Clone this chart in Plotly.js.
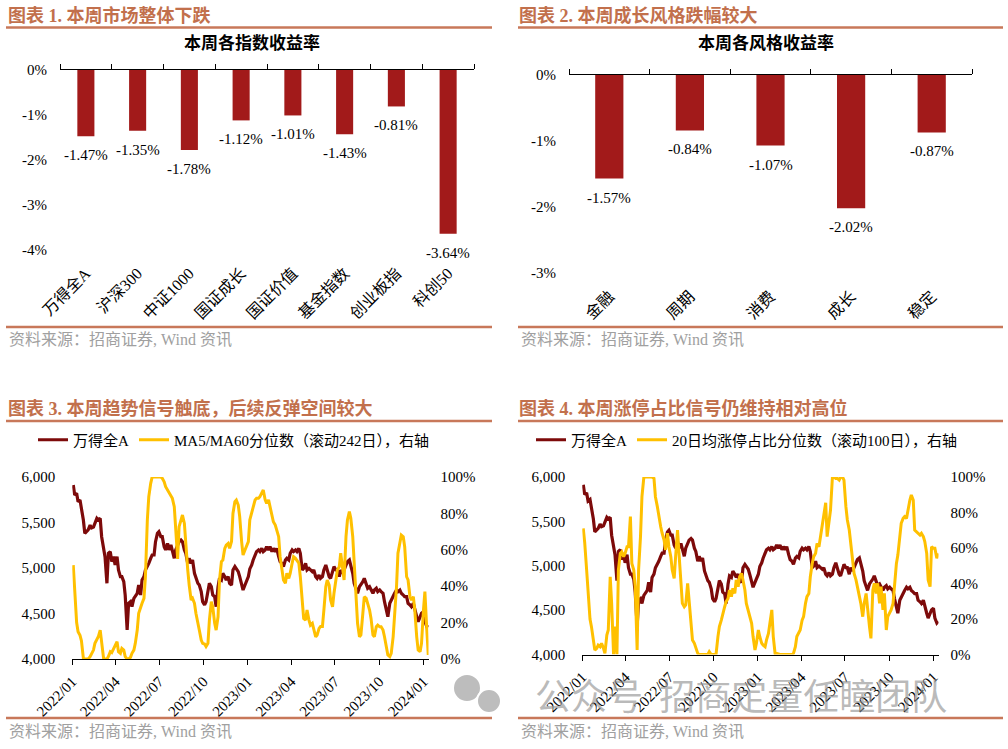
<!DOCTYPE html>
<html><head><meta charset="utf-8">
<script src="https://cdn.plot.ly/plotly-3.0.1.min.js"></script>
<style>html,body{margin:0;padding:0;background:#fff}#chart{width:1008px;height:749px}</style>
</head><body><div id="chart"></div>
<script>
// ---------- data ----------
const idxCategories = ['万得全A','沪深300','中证1000','国证成长','国证价值','基金指数','创业板指','科创50'];
const idxReturns = [-1.47,-1.35,-1.78,-1.12,-1.01,-1.43,-0.81,-3.64];
const styleCategories = ['金融','周期','消费','成长','稳定'];
const styleReturns = [-1.57,-0.84,-1.07,-2.02,-0.87];
const idxTickVals = [0,-1,-2,-3,-4];
const idxTickText = ['0%','-1%','-2%','-3%','-4%'];
const styleTickVals = [0,-1,-2,-3];
const styleTickText = ['0%','-1%','-2%','-3%'];
const indexTickVals = [4000,4500,5000,5500,6000];
const pctTickVals = [0,20,40,60,80,100];
const pctTickText = ['0%','20%','40%','60%','80%','100%'];

const dates = [
'2022-01-03','2022-01-06','2022-01-10','2022-01-13','2022-01-17','2022-01-20','2022-01-24','2022-01-27','2022-01-31',
'2022-02-03','2022-02-07','2022-02-10','2022-02-14','2022-02-17','2022-02-21','2022-02-24','2022-02-28',
'2022-03-03','2022-03-07','2022-03-10','2022-03-14','2022-03-17','2022-03-21','2022-03-24','2022-03-28','2022-03-31',
'2022-04-04','2022-04-07','2022-04-11','2022-04-14','2022-04-18','2022-04-21','2022-04-25','2022-04-28',
'2022-05-02','2022-05-05','2022-05-09','2022-05-12','2022-05-16','2022-05-19','2022-05-23','2022-05-26','2022-05-30',
'2022-06-02','2022-06-06','2022-06-09','2022-06-13','2022-06-16','2022-06-20','2022-06-23','2022-06-27','2022-06-30',
'2022-07-04','2022-07-07','2022-07-11','2022-07-14','2022-07-18','2022-07-21','2022-07-25','2022-07-28',
'2022-08-01','2022-08-04','2022-08-08','2022-08-11','2022-08-15','2022-08-18','2022-08-22','2022-08-25','2022-08-29',
'2022-09-01','2022-09-05','2022-09-08','2022-09-12','2022-09-15','2022-09-19','2022-09-22','2022-09-26','2022-09-29',
'2022-10-03','2022-10-06','2022-10-10','2022-10-13','2022-10-17','2022-10-20','2022-10-24','2022-10-27','2022-10-31',
'2022-11-03','2022-11-07','2022-11-10','2022-11-14','2022-11-17','2022-11-21','2022-11-24','2022-11-28',
'2022-12-01','2022-12-05','2022-12-08','2022-12-12','2022-12-15','2022-12-19','2022-12-22','2022-12-26','2022-12-29',
'2023-01-02','2023-01-05','2023-01-09','2023-01-12','2023-01-16','2023-01-19','2023-01-23','2023-01-26','2023-01-30',
'2023-02-02','2023-02-06','2023-02-09','2023-02-13','2023-02-16','2023-02-20','2023-02-23','2023-02-27',
'2023-03-02','2023-03-06','2023-03-09','2023-03-13','2023-03-16','2023-03-20','2023-03-23','2023-03-27','2023-03-30',
'2023-04-03','2023-04-06','2023-04-10','2023-04-13','2023-04-17','2023-04-20','2023-04-24','2023-04-27',
'2023-05-01','2023-05-04','2023-05-08','2023-05-11','2023-05-15','2023-05-18','2023-05-22','2023-05-25','2023-05-29',
'2023-06-01','2023-06-05','2023-06-08','2023-06-12','2023-06-15','2023-06-19','2023-06-22','2023-06-26','2023-06-29',
'2023-07-03','2023-07-06','2023-07-10','2023-07-13','2023-07-17','2023-07-20','2023-07-24','2023-07-27','2023-07-31',
'2023-08-03','2023-08-07','2023-08-10','2023-08-14','2023-08-17','2023-08-21','2023-08-24','2023-08-28','2023-08-31',
'2023-09-04','2023-09-07','2023-09-11','2023-09-14','2023-09-18','2023-09-21','2023-09-25','2023-09-28',
'2023-10-02','2023-10-05','2023-10-09','2023-10-12','2023-10-16','2023-10-19','2023-10-23','2023-10-26','2023-10-30',
'2023-11-02','2023-11-06','2023-11-09','2023-11-13','2023-11-16','2023-11-20','2023-11-23','2023-11-27','2023-11-30',
'2023-12-04','2023-12-07','2023-12-11','2023-12-14','2023-12-18','2023-12-21','2023-12-25','2023-12-28',
'2024-01-01','2024-01-04','2024-01-08','2024-01-11'];

const windA = [
5912,5802,5821,5729,5747,5656,5527,5381,5399,5420,
5470,5440,5450,5490,5546,5527,5546,5344,5198,5125,
4832,5161,5180,5070,5125,5033,5125,4978,4905,4905,
4850,4700,4319,4612,4630,4575,4667,4685,4722,4813,
4703,4868,4905,4978,5015,5051,5106,5143,5143,5289,
5381,5399,5344,5344,5234,5198,5271,5198,5253,5198,
5106,5198,5253,5289,5308,5289,5198,5161,5051,5106,
5051,5088,4941,4886,4832,4813,4740,4630,4594,4630,
4758,4832,4795,4703,4685,4575,4795,4886,4868,4941,
4905,4868,4905,4832,4813,4978,5015,4996,4960,4905,
4795,4758,4813,4850,4905,4990,5033,5088,5143,5180,
5198,5180,5216,5180,5198,5234,5198,5234,5180,5216,
5180,5216,5125,5070,5051,5015,5088,5106,5088,5161,
5198,5180,5198,5180,5216,5161,4978,4996,5051,
4978,4996,4978,4960,4978,4905,4886,4923,4886,4905,
4978,5033,4978,4905,4886,4960,5015,4978,4978,4905,
4978,4941,4978,5015,5070,5088,5033,4941,4832,4777,
4722,4795,4813,4850,4886,4813,4777,4795,4758,4722,
4758,4777,4740,4758,4740,4722,4630,4538,4465,4612,
4648,4685,4722,4758,4740,4758,4722,4703,4685,4685,
4612,4594,4575,4612,4538,4465,4410,4465,4502,4520,
4410,4355,4374];

const ma5ma60Pct = [
51.6,35,20,15,13,10,0.4,0,0,0,
1.3,3.1,4.9,8.6,10.4,12.2,15.9,10.4,0.4,0,
0,1.3,4,3.5,5.8,6.8,9.5,4,3.1,5.8,
4.9,1.3,0,0,0.9,3.1,4.9,8.6,15.9,25.1,
28.7,30.6,33.3,45.2,76.4,89.2,96.5,100,100,100,
100,100,100,99.3,97.4,94.7,92.9,91.9,90.1,88.3,
83.7,69,55,72.7,77.3,79.1,74.5,61.7,48.9,40.6,
32.4,33.3,30.6,25.1,18.6,15.9,10.4,8.6,8.2,6.8,
8.6,21.4,31.5,28.7,19.6,15.9,23.2,43.4,53.5,54.4,
60.8,62.6,63.5,60.8,64.5,80,86.4,87.3,84.6,78.2,
64.5,57.1,59.9,61.7,64.5,76.4,80,82.8,87.4,88.3,
88.3,89.2,91,92.9,87.4,85.5,87.4,83.7,80,75.4,
73.6,70.9,67.2,56.2,48.9,43.4,41.6,47.1,44.3,47.1,
52.6,56.2,55.3,54.4,52.6,45.2,30.6,22.3,21.4,
26.9,21.4,18.6,19.6,15.9,12.2,13.2,16.8,17.8,17.8,
26.9,39.7,43.4,40.6,32.4,28.7,36.1,43.4,48.9,50.7,
58.1,49.8,43.4,67.2,76.4,81,77.3,67.2,52.6,34.2,
19.6,12.2,13.2,25.1,34.2,33.3,30.6,26.9,22.3,13.2,
12.2,17.7,18.6,17.7,17.7,15.9,12.2,4.9,2.2,1.3,
3.1,12.2,23.2,39.7,58.1,65.4,68.1,67.2,61.7,45.2,
43.4,34.2,32.4,34.2,26.9,12.2,4.9,4,8.6,26.9,
37,15.9,2.2];

const limitUpPct = [
71.1,63,47.6,35,20,15.7,6.3,2.5,3.5,5.3,
4.4,6.3,3.5,0.6,11,13.8,43.8,28.8,0,15.7,
0,47.6,57,57.9,55.1,57,60.7,60.7,77.7,51.3,
47.6,38.2,2.5,47.6,66.4,88.9,100,100,100,100,
100,100,99.2,88.9,83.3,77.7,72,68.3,64.5,58.9,
68.3,60.7,55.1,47.6,42.9,55.1,70.1,57,42,28.8,
26.9,27.9,40.1,30.7,15.7,8.2,6.3,3.5,0.6,0,
0,0,0,0,0,1.6,0,0,0,0,
10.1,15.7,19.4,23.2,26.9,29.8,31.6,36.3,32.6,37.3,
34.4,42,38.2,43.8,45.7,42,36.3,28.8,25.1,21.3,
17.6,10.1,2.5,6.3,13.8,10,6.3,5.3,4.4,8.2,
11.9,17.6,25.1,10.1,0,0.6,0,0,0,0,
0,0,0,0,0,0.6,4.4,10.1,11.9,13.8,
19.4,21.3,28.8,32.6,34.4,43.8,51.3,55.1,57,
62.6,60.7,66.4,72,77.7,85.5,66.4,75,81.4,100,
100,99.2,99.2,98.3,100,100,98.3,83.3,75.8,70.1,
62.6,49.5,45.7,42,38.2,34.4,28.8,21.3,28.8,34.4,
25.1,15.7,9.1,36.3,40.1,34.4,40.1,28.8,38.2,25.1,
34.4,13.8,21.3,23.2,25.1,28.8,40.1,51.3,56,66.4,
73.9,76.7,77.7,76.7,81.4,87,89.9,87,70.1,69.2,
68.3,67.3,68.3,66.4,63.6,57,42,38.2,60.7,59.8,
59.8,54.2,57];

// ---------- styling ----------
const W = 1008, H = 749;
const px = v => v / W;
const py = v => 1 - v / H;
const FONT = "'Liberation Serif', 'Noto Sans CJK SC', serif";
const CJK = "'Noto Sans CJK SC', sans-serif";
const BAR = '#A21A1A';
const RED = '#7D0A0A';
const GOLD = '#FFC000';
const ACCENT = '#C2704C';
const RULE = '#C8785A';

const tf = (s) => ({family: FONT, size: s, color: '#000'});

const traces = [
  {type:'bar', x: idxCategories, y: idxReturns, xaxis:'x', yaxis:'y', width:0.33,
   marker:{color:BAR}, showlegend:false, hoverinfo:'skip'},
  {type:'scatter', mode:'markers', x: idxCategories, y: idxReturns, xaxis:'x2', yaxis:'y',
   marker:{opacity:0}, showlegend:false, hoverinfo:'skip'},
  {type:'bar', x: styleCategories, y: styleReturns, xaxis:'x3', yaxis:'y2', width:0.35,
   marker:{color:BAR}, showlegend:false, hoverinfo:'skip'},
  {type:'scatter', mode:'markers', x: styleCategories, y: styleReturns, xaxis:'x4', yaxis:'y2',
   marker:{opacity:0}, showlegend:false, hoverinfo:'skip'},
  {type:'scatter', mode:'lines', name:'万得全A', x: dates, y: windA, xaxis:'x5', yaxis:'y3',
   line:{color:RED, width:3.2}, legend:'legend', cliponaxis:false},
  {type:'scatter', mode:'lines', name:'MA5/MA60分位数（滚动242日），右轴', x: dates, y: ma5ma60Pct, xaxis:'x5', yaxis:'y4',
   line:{color:GOLD, width:3}, legend:'legend', cliponaxis:false},
  {type:'scatter', mode:'lines', name:'万得全A', x: dates, y: windA, xaxis:'x6', yaxis:'y5',
   line:{color:RED, width:3.2}, legend:'legend2', cliponaxis:false},
  {type:'scatter', mode:'lines', name:'20日均涨停占比分位数（滚动100日），右轴', x: dates, y: limitUpPct, xaxis:'x6', yaxis:'y6',
   line:{color:GOLD, width:3}, legend:'legend2', cliponaxis:false}
];

const annotations = [];
function txt(x, y, text, opts) {
  annotations.push(Object.assign({xref:'paper', yref:'paper', x: px(x), y: py(y), text: text,
    showarrow:false, xanchor:'left', yanchor:'middle'}, opts));
}
const titleFont = {family:FONT, size:18, color:ACCENT};
txt(6, 15, '<b>图表 1. 本周市场整体下跌</b>', {font:titleFont});
txt(517, 15, '<b>图表 2. 本周成长风格跌幅较大</b>', {font:titleFont});
txt(6, 408, '<b>图表 3. 本周趋势信号触底，后续反弹空间较大</b>', {font:titleFont});
txt(517, 408, '<b>图表 4. 本周涨停占比信号仍维持相对高位</b>', {font:titleFont});
txt(252, 43, '<b>本周各指数收益率</b>', {xanchor:'center', font:{family:FONT, size:17, color:'#000'}});
txt(766, 43, '<b>本周各风格收益率</b>', {xanchor:'center', font:{family:FONT, size:17, color:'#000'}});
const srcFont = {family:FONT, size:16, color:'#A0A0A0'};
txt(7, 339, '资料来源：招商证券, Wind 资讯', {font:srcFont});
txt(519, 339, '资料来源：招商证券, Wind 资讯', {font:srcFont});
txt(7, 731, '资料来源：招商证券, Wind 资讯', {font:srcFont});
txt(519, 731, '资料来源：招商证券, Wind 资讯', {font:srcFont});
txt(741, 694, '公众号  招商定量任瞳团队', {xanchor:'center', font:{family:CJK, size:36, color:'rgba(140,140,140,0.6)'}});

idxCategories.forEach((c, i) => annotations.push({xref:'x', yref:'y', x:c, y:idxReturns[i],
  text: idxReturns[i].toFixed(2) + '%', showarrow:false, yanchor:'top', yshift:-9, font:tf(15)}));
styleCategories.forEach((c, i) => annotations.push({xref:'x3', yref:'y2', x:c, y:styleReturns[i],
  text: styleReturns[i].toFixed(2) + '%', showarrow:false, yanchor:'top', yshift:-9, font:tf(15)}));

const shapes = [];
function hline(x0, x1, y, w) {
  shapes.push({type:'line', xref:'paper', yref:'paper', x0:px(x0), x1:px(x1), y0:py(y), y1:py(y),
    line:{color:RULE, width:w}});
}
hline(6, 492, 27.5, 2.5); hline(518, 1003, 27.5, 2.5);
hline(6, 492, 327, 2.5); hline(518, 1003, 327, 2.5);
hline(6, 492, 421, 2.5); hline(518, 1003, 421, 2.5);
hline(6, 492, 718, 2.5); hline(518, 1003, 718, 2.5);
function circ(cx, cy, r) {
  shapes.push({type:'circle', xref:'paper', yref:'paper', x0:px(cx-r), x1:px(cx+r), y0:py(cy+r), y1:py(cy-r),
    fillcolor:'#BDBDBD', line:{color:'#ffffff', width:2}});
}
circ(467, 688, 14); circ(489, 701, 12);

const catX = (dom, n, fs) => ({domain:dom, type:'category', range:[-0.5, n-0.5], showline:false, ticks:'',
  showgrid:false, zeroline:false, tickangle:-45, tickfont:tf(fs), ticklabelstandoff:10, fixedrange:true});
const topX = (ov, anc, n) => ({overlaying:ov, anchor:anc, side:'top', type:'category', range:[-0.5, n-0.5],
  showline:true, linecolor:'#000', linewidth:1, ticks:'outside', tickson:'boundaries', ticklen:5,
  tickcolor:'#000', showticklabels:false, showgrid:false, zeroline:false, fixedrange:true});
const dateX = (dom, anc) => ({domain:dom, anchor:anc, type:'date', range:['2022-01-01','2024-01-11 12:00'],
  tick0:'2022-01-01', dtick:'M3', tickformat:'%Y/%m', tickangle:-45, ticks:'outside', ticklen:5,
  tickcolor:'#000', showline:true, linecolor:'#000', linewidth:1, showgrid:false, zeroline:false,
  tickfont:tf(15), ticklabelstandoff:2, fixedrange:true});
const leftY = (dom, anc) => ({domain:dom, anchor:anc, range:[4000,6000], tickvals:indexTickVals, tickformat:',',
  showgrid:false, zeroline:false, showline:false, ticks:'', tickfont:tf(15), ticklabelstandoff:16, fixedrange:true});
const rightY = (ov, anc) => ({overlaying:ov, anchor:anc, side:'right', range:[0,100], tickvals:pctTickVals,
  ticktext:pctTickText, showgrid:false, zeroline:false, showline:false, ticks:'', tickfont:tf(15),
  ticklabelstandoff:11, fixedrange:true});

const layout = {
  width:W, height:H, autosize:false, margin:{l:0, r:0, t:0, b:0},
  paper_bgcolor:'#fff', plot_bgcolor:'rgba(0,0,0,0)', showlegend:true,
  xaxis: Object.assign(catX([px(60), px(474)], idxCategories.length, 16), {anchor:'y'}),
  xaxis2: topX('x', 'y', idxCategories.length),
  yaxis: {domain:[py(250), py(70)], anchor:'x', range:[-4,0], tickvals:idxTickVals, ticktext:idxTickText,
    showgrid:false, zeroline:false, showline:false, ticks:'', tickfont:tf(15), ticklabelstandoff:12, fixedrange:true},
  xaxis3: Object.assign(catX([px(569), px(972)], styleCategories.length, 16), {anchor:'y2'}),
  xaxis4: topX('x3', 'y2', styleCategories.length),
  yaxis2: {domain:[py(273), py(75)], anchor:'x3', range:[-3,0], tickvals:styleTickVals, ticktext:styleTickText,
    showgrid:false, zeroline:false, showline:false, ticks:'', tickfont:tf(15), ticklabelstandoff:12, fixedrange:true},
  xaxis5: dateX([px(72.3), px(428.5)], 'y3'),
  yaxis3: leftY([py(659), py(477)], 'x5'),
  yaxis4: rightY('y3', 'x5'),
  xaxis6: dateX([px(582.3), px(938.5)], 'y5'),
  yaxis5: leftY([py(654.5), py(477)], 'x6'),
  yaxis6: rightY('y5', 'x6'),
  legend: {x:px(33), y:py(440), xanchor:'left', yanchor:'middle', orientation:'h', font:tf(15),
    bgcolor:'rgba(0,0,0,0)', itemclick:false, itemdoubleclick:false},
  legend2: {x:px(531), y:py(440), xanchor:'left', yanchor:'middle', orientation:'h', font:tf(15),
    bgcolor:'rgba(0,0,0,0)', itemclick:false, itemdoubleclick:false},
  annotations: annotations,
  shapes: shapes
};

Plotly.newPlot('chart', traces, layout, {staticPlot:true, displayModeBar:false});
</script>
</body></html>
